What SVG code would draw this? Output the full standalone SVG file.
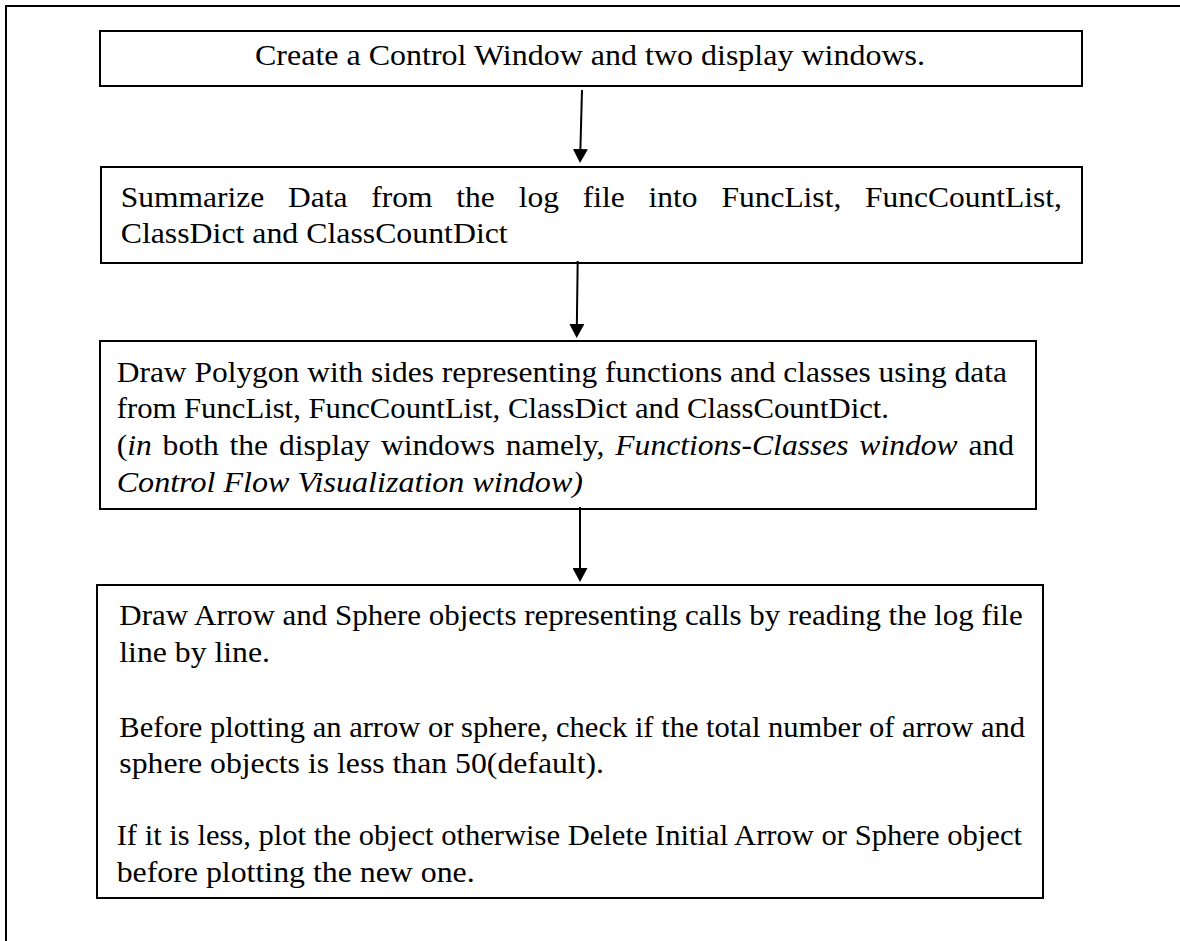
<svg xmlns="http://www.w3.org/2000/svg" width="1180" height="941" viewBox="0 0 1180 941">
<style>
.box{fill:#fff;stroke:#000;stroke-width:2}
.frame{fill:none;stroke:#000;stroke-width:2}
.t{font-family:"Liberation Serif","Times New Roman",serif;font-size:30px;fill:#000}
.i{font-style:italic}
.conn{stroke:#000;stroke-width:2;fill:none}
</style>
<defs>
<marker id="ah" markerUnits="userSpaceOnUse" viewBox="0 0 14 15" markerWidth="14" markerHeight="15" refX="11" refY="7.5" orient="auto">
<path d="M0,0 L14,7.5 L0,15 z" fill="#000"/>
</marker>
</defs>
<rect width="1180" height="941" fill="#fff"/>
<path class="frame" d="M6,941 V6 H1180"/>
<g id="n1">
<rect class="box" x="100" y="31" width="982" height="55"/>
<text class="t" x="255" y="65" textLength="670" lengthAdjust="spacingAndGlyphs">Create a Control Window and two display windows.</text>
</g>
<g id="n2">
<rect class="box" x="101" y="167" width="981" height="96"/>
<text class="t" x="120.7" y="206.5" textLength="941.3" lengthAdjust="spacingAndGlyphs" word-spacing="15.2">Summarize Data from the log file into FuncList, FuncCountList,</text>
<text class="t" x="120.7" y="243" textLength="387" lengthAdjust="spacingAndGlyphs">ClassDict and ClassCountDict</text>
</g>
<g id="n3">
<rect class="box" x="100" y="341" width="936" height="168"/>
<text class="t" x="116.7" y="381.7" textLength="890.3" lengthAdjust="spacingAndGlyphs">Draw Polygon with sides representing functions and classes using data</text>
<text class="t" x="116.7" y="418.3" textLength="772.3" lengthAdjust="spacingAndGlyphs">from FuncList, FuncCountList, ClassDict and ClassCountDict.</text>
<text class="t" x="116.7" y="455" textLength="897.3" lengthAdjust="spacingAndGlyphs" word-spacing="2.8">(<tspan class="i">in</tspan> both the display windows namely, <tspan class="i">Functions-Classes window</tspan> and</text>
<text class="t i" x="116.7" y="491.7" textLength="466.3" lengthAdjust="spacingAndGlyphs">Control Flow Visualization window)</text>
</g>
<g id="n4">
<rect class="box" x="97" y="585" width="946" height="313"/>
<text class="t" x="119.3" y="625" textLength="903.4" lengthAdjust="spacingAndGlyphs">Draw Arrow and Sphere objects representing calls by reading the log file</text>
<text class="t" x="119.3" y="661.7" textLength="150.7" lengthAdjust="spacingAndGlyphs">line by line.</text>
<text class="t" x="119.3" y="736.7" textLength="905.7" lengthAdjust="spacingAndGlyphs">Before plotting an arrow or sphere, check if the total number of arrow and</text>
<text class="t" x="119.3" y="773.3" textLength="484.7" lengthAdjust="spacingAndGlyphs">sphere objects is less than 50(default).</text>
<text class="t" x="116.7" y="845" textLength="905.3" lengthAdjust="spacingAndGlyphs">If it is less, plot the object otherwise Delete Initial Arrow or Sphere object</text>
<text class="t" x="116.7" y="881.7" textLength="358" lengthAdjust="spacingAndGlyphs">before plotting the new one.</text>
</g>
<g id="connectors">
<path class="conn" d="M582,90 L580.1,160" marker-end="url(#ah)"/>
<path class="conn" d="M577.7,261 L576.7,335" marker-end="url(#ah)"/>
<path class="conn" d="M580,507 L580,579" marker-end="url(#ah)"/>
</g>
</svg>
